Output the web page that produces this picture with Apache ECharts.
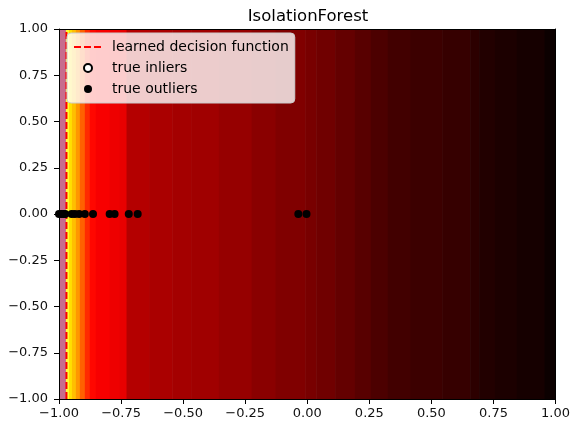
<!DOCTYPE html>
<html>
<head>
<meta charset="utf-8">
<script src="https://cdn.jsdelivr.net/npm/echarts@6/dist/echarts.min.js"></script>
<style>
  html, body { margin: 0; padding: 0; background: #fff; overflow: hidden; }
  #chart { width: 573px; height: 427px; }
</style>
</head>
<body>
<div id="chart"></div>
<script>
// Decision-function bands along x (edges) and their normalised levels (0..1, hot colormap).
// A level of -1 marks the region flagged as anomalous (drawn in the pink tone).
const bandEdges = [-1.0, -0.972, -0.96, -0.948, -0.932, -0.916, -0.896, -0.876, -0.852, -0.796,
  -0.756, -0.728, -0.636, -0.544, -0.468, -0.356, -0.224, -0.128, -0.008, 0.036, 0.112,
  0.192, 0.256, 0.324, 0.416, 0.544, 0.656, 0.692, 0.756, 0.844, 0.956, 1.0];
const bandLevels = [-1, 0.80, 0.70, 0.65, 0.59, 0.51, 0.43, 0.375, 0.355, 0.34, 0.331,
  0.253, 0.238, 0.229, 0.223, 0.208, 0.190, 0.175, 0.163, 0.151, 0.133, 0.115, 0.098,
  0.083, 0.074, 0.065, 0.050, 0.035, 0.026, 0.017, 0.002];

// Learned decision threshold (x position of the boundary)
const thresholdX = -0.97;

// Samples (all lie on y = 0)
const inliers = [];
const outliers = [[-1.0, 0], [-0.99, 0], [-0.98, 0], [-0.975, 0], [-0.949, 0], [-0.936, 0],
  [-0.919, 0], [-0.896, 0], [-0.863, 0], [-0.796, 0], [-0.776, 0], [-0.719, 0],
  [-0.683, 0], [-0.036, 0], [-0.003, 0]];

function hot(t) {
  const c = v => Math.max(0, Math.min(1, v));
  const r = c(0.0416 + (1 - 0.0416) * t / 0.365079);
  const g = c((t - 0.365079) / (0.746032 - 0.365079));
  const b = c((t - 0.746032) / (1 - 0.746032));
  const h = v => Math.round(v * 255);
  return 'rgb(' + h(r) + ',' + h(g) + ',' + h(b) + ')';
}

const bands = bandLevels.map((lv, i) => [bandEdges[i], bandEdges[i + 1], lv]);

const fmt = v => Number(v).toFixed(2).replace('-', '\u2212');

const FONT = 'DejaVu Sans';

const chart = echarts.init(document.getElementById('chart'), null, { renderer: 'canvas', width: 573, height: 427 });
chart.setOption({
  animation: false,
  textStyle: { fontFamily: FONT },
  title: {
    text: 'IsolationForest',
    left: 303, top: 3, textAlign: 'center',
    textStyle: { fontFamily: FONT, fontSize: 16.5, fontWeight: 'normal', color: '#000' }
  },
  grid: { left: 59, right: 13, top: 29, bottom: 28, containLabel: false },
  xAxis: [{
    type: 'value', min: -1, max: 1, interval: 0.25, z: 5,
    axisLine: { show: true, onZero: false, lineStyle: { color: '#000', width: 1 } },
    axisTick: { show: true, length: 5, lineStyle: { color: '#000' } },
    axisLabel: { fontFamily: FONT, fontSize: 13, color: '#111', margin: 8, formatter: fmt, showMinLabel: true, showMaxLabel: true },
    splitLine: { show: false }
  }, {
    type: 'value', position: 'top', min: -1, max: 1, z: 5,
    axisLine: { show: true, onZero: false, lineStyle: { color: '#000', width: 1 } },
    axisTick: { show: false }, axisLabel: { show: false }, splitLine: { show: false }
  }],
  yAxis: [{
    type: 'value', min: -1, max: 1, interval: 0.25, z: 5,
    axisLine: { show: true, onZero: false, lineStyle: { color: '#000', width: 1 } },
    axisTick: { show: true, length: 5, lineStyle: { color: '#000' } },
    axisLabel: { fontFamily: FONT, fontSize: 13, color: '#111', margin: 11, formatter: fmt, showMinLabel: true, showMaxLabel: true },
    splitLine: { show: false }
  }, {
    type: 'value', position: 'right', min: -1, max: 1, z: 5,
    axisLine: { show: true, onZero: false, lineStyle: { color: '#000', width: 1 } },
    axisTick: { show: false }, axisLabel: { show: false }, splitLine: { show: false }
  }],
  legend: {
    left: 67, top: 33, orient: 'vertical',
    backgroundColor: 'rgba(255,255,255,0.8)',
    borderColor: '#cccccc', borderWidth: 1, borderRadius: 4,
    padding: [7, 6, 7, 6],
    itemWidth: 28, itemHeight: 8, itemGap: 7,
    textStyle: { fontFamily: FONT, fontSize: 14, color: '#000', padding: [0, 0, 0, 5] },
    data: [
      { name: 'learned decision function', itemStyle: { opacity: 0 } },
      { name: 'true inliers' },
      { name: 'true outliers' }
    ]
  },
  series: [
    {
      type: 'custom',
      name: 'decision',
      silent: true,
      z: 1,
      data: bands,
      renderItem: function (params, api) {
        const p0 = api.coord([api.value(0), 1]);
        const p1 = api.coord([api.value(1), -1]);
        const lv = api.value(2);
        const color = lv < 0 ? '#c76c8e' : hot(lv);
        return {
          type: 'rect',
          shape: { x: p0[0], y: p0[1], width: p1[0] - p0[0] + 0.6, height: p1[1] - p0[1] },
          style: { fill: color }
        };
      },
      clip: true
    },
    {
      type: 'line',
      name: 'learned decision function',
      z: 3,
      symbol: 'none',
      data: [[thresholdX, -1], [thresholdX, 1]],
      lineStyle: { color: '#ff0000', width: 2, type: [7, 3] },
      itemStyle: { color: '#ff0000' }
    },
    {
      type: 'scatter',
      name: 'true inliers',
      z: 4,
      symbol: 'circle', symbolSize: 6,
      data: inliers,
      itemStyle: { color: '#ffffff', borderColor: '#000', borderWidth: 1, opacity: 1 }
    },
    {
      type: 'scatter',
      name: 'true outliers',
      z: 4,
      symbol: 'circle', symbolSize: 8,
      data: outliers,
      itemStyle: { color: '#000000', opacity: 1 }
    }
  ]
});
</script>
</body>
</html>
